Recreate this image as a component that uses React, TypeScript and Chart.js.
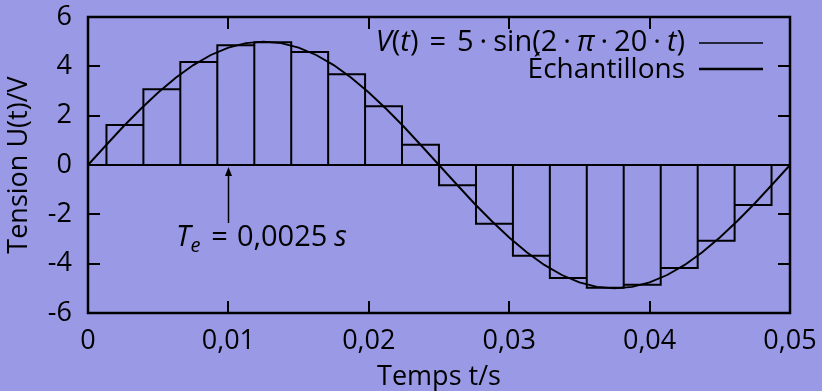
import { useEffect, useRef } from "react";
import { Chart, registerables } from "chart.js";

Chart.register(...registerables);

// ---- data ----
const curveT = [
  0, 0.00125, 0.0025, 0.00375, 0.005, 0.00625, 0.0075, 0.00875, 0.01, 0.01125,
  0.0125, 0.01375, 0.015, 0.01625, 0.0175, 0.01875, 0.02, 0.02125, 0.0225, 0.02375,
  0.025, 0.02625, 0.0275, 0.02875, 0.03, 0.03125, 0.0325, 0.03375, 0.035, 0.03625,
  0.0375, 0.03875, 0.04, 0.04125, 0.0425, 0.04375, 0.045, 0.04625, 0.0475, 0.04875,
  0.05,
];
const curveV = [
  0, 0.78, 1.55, 2.27, 2.94, 3.54, 4.05, 4.46, 4.76, 4.94,
  5.0, 4.94, 4.76, 4.46, 4.05, 3.54, 2.94, 2.27, 1.55, 0.78,
  0, -0.78, -1.55, -2.27, -2.94, -3.54, -4.05, -4.46, -4.76, -4.94,
  -5.0, -4.94, -4.76, -4.46, -4.05, -3.54, -2.94, -2.27, -1.55, -0.78,
  0,
];
const sampleT = [
  0.00263, 0.00526, 0.00789, 0.01053, 0.01316, 0.01579, 0.01842, 0.02105, 0.02368,
  0.02632, 0.02895, 0.03158, 0.03421, 0.03684, 0.03947, 0.04211, 0.04474, 0.04737,
];
const sampleV = [
  1.62, 3.07, 4.18, 4.85, 4.98, 4.58, 3.68, 2.38, 0.82,
  -0.82, -2.38, -3.68, -4.58, -4.98, -4.85, -4.18, -3.07, -1.62,
];
const xTicks = [0, 0.01, 0.02, 0.03, 0.04, 0.05];
const xTickLabels = ["0", "0,01", "0,02", "0,03", "0,04", "0,05"];
const yTicks = [-6, -4, -2, 0, 2, 4, 6];
const yTickLabels = ["-6", "-4", "-2", "0", "2", "4", "6"];
const xTitle = "Temps t/s";
const yTitle = "Tension U(t)/V";
const seriesNames = ["V(t) = 5·sin(2·π·20·t)", "Échantillons"];
const arrowAt = { t: 0.01, from: -2.35, to: 0 };
const labelAt = { t: 0.01235, v: -3.3 };

const FAMILY = "'Open Sans', 'DejaVu Sans', sans-serif";
const FS = 27;
const MS = 29;
const BG = "#9999e6";

type Part = { s?: string; it?: boolean; size?: number; dy?: number; gap?: number };

function measureParts(ctx: CanvasRenderingContext2D, parts: Part[]) {
  let w = 0;
  for (const p of parts) {
    if (p.gap) {
      w += p.gap;
      continue;
    }
    ctx.font = `${p.it ? "italic " : ""}${p.size ?? MS}px ${FAMILY}`;
    w += ctx.measureText(p.s ?? "").width;
  }
  return w;
}
function drawParts(ctx: CanvasRenderingContext2D, parts: Part[], x: number, y: number) {
  for (const p of parts) {
    if (p.gap) {
      x += p.gap;
      continue;
    }
    ctx.font = `${p.it ? "italic " : ""}${p.size ?? MS}px ${FAMILY}`;
    ctx.fillText(p.s ?? "", x, y + (p.dy ?? 0));
    x += ctx.measureText(p.s ?? "").width;
  }
}

const decor = {
  id: "decor",
  afterDatasetsDraw(chart: any) {
    const { ctx, chartArea: a, scales } = chart;
    const xs = scales.x;
    const ys = scales.y;
    ctx.save();
    ctx.strokeStyle = "#000";
    ctx.fillStyle = "#000";
    ctx.lineWidth = 2.2;
    ctx.lineCap = "butt";
    // zero line
    const y0 = ys.getPixelForValue(0);
    ctx.beginPath();
    ctx.moveTo(a.left, y0);
    ctx.lineTo(a.right, y0);
    ctx.stroke();
    // frame
    ctx.lineWidth = 2.5;
    ctx.strokeRect(a.left, a.top, a.right - a.left, a.bottom - a.top);
    // inner tick marks
    ctx.lineWidth = 2;
    const TL = 12;
    ctx.beginPath();
    xTicks.slice(1, -1).forEach((v) => {
      const px = Math.round(xs.getPixelForValue(v));
      ctx.moveTo(px, a.bottom);
      ctx.lineTo(px, a.bottom - TL);
      ctx.moveTo(px, a.top);
      ctx.lineTo(px, a.top + TL);
    });
    yTicks.slice(1, -1).forEach((v) => {
      const py = Math.round(ys.getPixelForValue(v));
      ctx.moveTo(a.left, py);
      ctx.lineTo(a.left + TL, py);
      ctx.moveTo(a.right, py);
      ctx.lineTo(a.right - TL, py);
    });
    ctx.stroke();

    // arrow
    const ax = Math.round(xs.getPixelForValue(arrowAt.t)) + 0.5;
    const ay1 = ys.getPixelForValue(arrowAt.from);
    const ay2 = ys.getPixelForValue(arrowAt.to) + 2;
    ctx.lineWidth = 1.5;
    ctx.beginPath();
    ctx.moveTo(ax, ay1);
    ctx.lineTo(ax, ay2 + 6);
    ctx.stroke();
    ctx.beginPath();
    ctx.moveTo(ax, ay2);
    ctx.lineTo(ax - 3.5, ay2 + 9);
    ctx.lineTo(ax + 3.5, ay2 + 9);
    ctx.closePath();
    ctx.fill();

    // annotation text
    ctx.textBaseline = "alphabetic";
    ctx.textAlign = "left";
    const ann: Part[] = [
      { s: "T", it: true },
      { s: "e", it: true, size: 20, dy: 6 },
      { gap: 11 },
      { s: "=" },
      { gap: 9 },
      { s: "0,0025" },
      { gap: 7 },
      { s: "s", it: true },
    ];
    const aw = measureParts(ctx, ann);
    drawParts(ctx, ann, xs.getPixelForValue(labelAt.t) - aw / 2, ys.getPixelForValue(labelAt.v));

    // legend
    const dot: Part[] = [{ gap: 6 }, { s: "·" }, { gap: 6 }];
    const row1: Part[] = [
      { s: "V", it: true },
      { s: "(" },
      { s: "t", it: true },
      { s: ")" },
      { gap: 11 },
      { s: "=" },
      { gap: 11 },
      { s: "5" },
      ...dot,
      { s: "sin(2" },
      ...dot,
      { s: "π", it: true },
      ...dot,
      { s: "20" },
      ...dot,
      { s: "t", it: true },
      { s: ")" },
    ];
    const row2: Part[] = [{ s: seriesNames[1], size: 28 }];
    const textRight = a.right - 105;
    const w1 = measureParts(ctx, row1);
    drawParts(ctx, row1, textRight - w1, a.top + 34);
    const w2 = measureParts(ctx, row2);
    drawParts(ctx, row2, textRight - w2, a.top + 61);
    ctx.lineWidth = 1.5;
    ctx.beginPath();
    ctx.moveTo(a.right - 91, a.top + 26);
    ctx.lineTo(a.right - 27, a.top + 26);
    ctx.stroke();
    ctx.lineWidth = 2.5;
    ctx.beginPath();
    ctx.moveTo(a.right - 91, a.top + 52);
    ctx.lineTo(a.right - 27, a.top + 52);
    ctx.stroke();
    ctx.restore();
  },
};

export default function App() {
  const ref = useRef<HTMLCanvasElement>(null);
  useEffect(() => {
    const canvas = ref.current;
    if (!canvas) return;
    const curvePts = curveT.map((t, i) => ({ x: t, y: curveV[i] }));
    const half = (sampleT[1] - sampleT[0]) / 2;
    const boxPts: { x: number; y: number }[] = [];
    sampleT.forEach((t, i) => {
      boxPts.push({ x: t - half, y: 0 }, { x: t - half, y: sampleV[i] }, { x: t + half, y: sampleV[i] }, { x: t + half, y: 0 });
    });
    Chart.defaults.font.family = FAMILY;
    Chart.defaults.color = "#000";
    const chart = new Chart(canvas, {
      type: "line",
      data: {
        datasets: [
          {
            label: seriesNames[0],
            data: curvePts,
            borderColor: "#000",
            borderWidth: 1.9,
            pointRadius: 0,
            tension: 0,
            fill: false,
          },
          {
            label: seriesNames[1],
            data: boxPts,
            borderColor: "#000",
            borderWidth: 2,
            pointRadius: 0,
            tension: 0,
            fill: false,
            borderJoinStyle: "miter",
          },
        ],
      },
      plugins: [decor],
      options: {
        animation: false,
        responsive: false,
        devicePixelRatio: 1,
        layout: { padding: { top: 17, right: 32, left: 0, bottom: 0 }, autoPadding: false },
        plugins: { legend: { display: false }, tooltip: { enabled: false } },
        scales: {
          x: {
            type: "linear",
            min: 0,
            max: 0.05,
            offset: false,
            grid: { display: false, drawTicks: false },
            border: { display: false },
            afterBuildTicks: (s: any) => {
              s.ticks = xTicks.map((value) => ({ value }));
            },
            afterFit: (s: any) => {
              s.height = 78;
              s.paddingLeft = 0;
              s.paddingRight = 0;
            },
            ticks: {
              autoSkip: false,
              maxRotation: 0,
              padding: 12,
              font: { size: FS },
              color: "#000",
              callback: (_v: any, i: number) => xTickLabels[i],
            },
            title: { display: true, text: xTitle, font: { size: FS, lineHeight: 1 }, color: "#000", padding: 0 },
          },
          y: {
            type: "linear",
            min: -6,
            max: 6,
            grid: { display: false, drawTicks: false },
            border: { display: false },
            afterBuildTicks: (s: any) => {
              s.ticks = yTicks.map((value) => ({ value }));
            },
            afterFit: (s: any) => {
              s.width = 88;
              s.paddingTop = 0;
              s.paddingBottom = 0;
            },
            ticks: {
              padding: 16,
              font: { size: FS },
              color: "#000",
              callback: (_v: any, i: number) => yTickLabels[i],
            },
            title: { display: true, text: yTitle, font: { size: FS, lineHeight: 1 }, color: "#000", padding: { top: 6, bottom: 0 } },
          },
        },
      } as any,
    });
    return () => chart.destroy();
  }, []);
  return (
    <div style={{ position: "fixed", left: 0, top: 0, width: 822, height: 391, background: BG }}>
      <canvas ref={ref} width={822} height={391} style={{ display: "block", width: 822, height: 391 }} />
    </div>
  );
}
